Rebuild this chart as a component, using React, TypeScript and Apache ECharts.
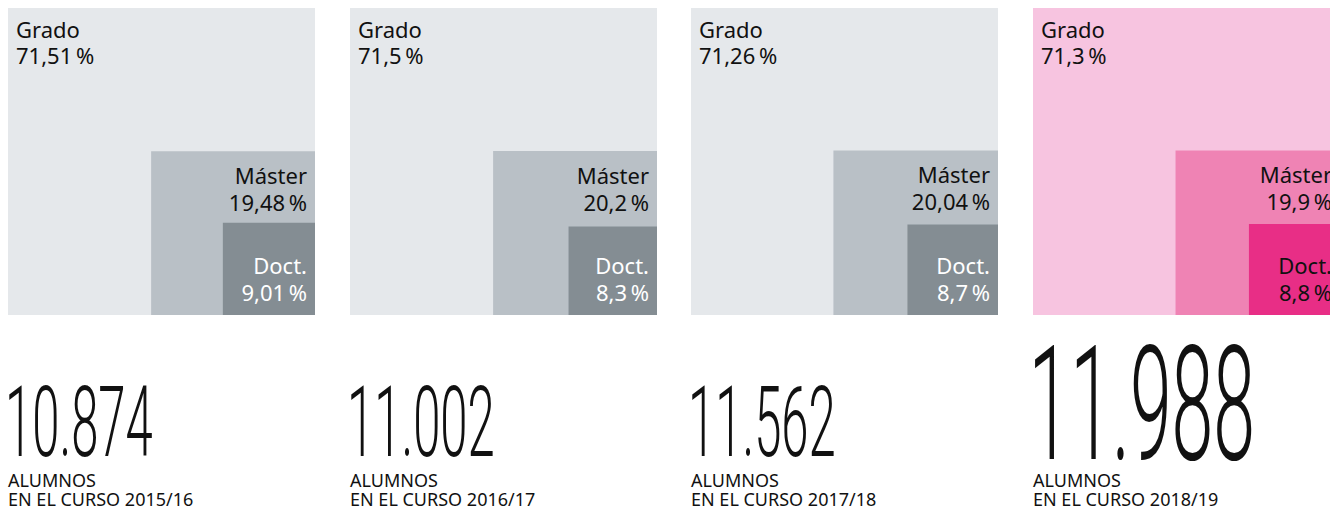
import React, { useEffect, useRef } from "react";
import * as echarts from "echarts";

// ---- data ----
const courses = ["2015/16", "2016/17", "2017/18", "2018/19"];
const students = [10874, 11002, 11562, 11988];
const levels = ["Grado", "Máster", "Doct."];
const grado = [71.51, 71.5, 71.26, 71.3];
const master = [19.48, 20.2, 20.04, 19.9];
const doct = [9.01, 8.3, 8.7, 8.8];

// ---- layout / style ----
const W = 1330;
const H = 509;
const PANEL_LEFT = [8, 350, 691, 1033];
const PANEL_TOP = 8;
const PANEL_SIZE = 307;
const HIGHLIGHT = 3;
const GREY = ["#e5e8eb", "#b9c0c6", "#848d93"];
const PINK = ["#f7c4e0", "#ef83b4", "#e82e86"];
const TEXT = "#111111";
const LABEL_FONT = "'Noto Sans', 'Open Sans', sans-serif";
const NUMBER_FONT = "Roboto, 'DejaVu Sans', sans-serif";

const fmtPct = (v: number) => String(v).replace(".", ",") + "\u2009%";
const fmtNum = (n: number) => String(n).replace(/\B(?=(\d{3})+(?!\d))/g, ".");

export default function App() {
  const ref = useRef<HTMLDivElement>(null);

  useEffect(() => {
    document.body.style.margin = "0";
    document.body.style.overflow = "hidden";
    if (!ref.current) return;
    const chart = echarts.init(ref.current, undefined, { renderer: "svg" });

    const grids = PANEL_LEFT.map((left) => ({
      left,
      top: PANEL_TOP,
      width: PANEL_SIZE,
      height: PANEL_SIZE,
      containLabel: false,
      outerBoundsMode: "none",
    }));
    const xAxis = PANEL_LEFT.map((_, i) => ({
      type: "value",
      gridIndex: i,
      min: 0,
      max: 1,
      show: false,
    }));
    const yAxis = PANEL_LEFT.map((_, i) => ({
      type: "value",
      gridIndex: i,
      min: 0,
      max: 1,
      show: false,
    }));

    const series = PANEL_LEFT.map((_, i) => {
      const total = grado[i] + master[i] + doct[i];
      const shares = [grado[i], master[i], doct[i]];
      const cums = [total, master[i] + doct[i], doct[i]];
      const palette = i === HIGHLIGHT ? PINK : GREY;
      return {
        type: "custom",
        xAxisIndex: i,
        yAxisIndex: i,
        clip: false,
        data: levels.map((_, k) => [(cums[k] / total) * 100, shares[k], k]),
        renderItem: (params: any, api: any) => {
          const cum = api.value(0);
          const share = api.value(1);
          const k = api.value(2);
          const side = Math.sqrt(cum / 100);
          const tl = api.coord([1 - side, side]);
          const br = api.coord([1, 0]);
          const rect = {
            type: "rect",
            shape: { x: tl[0], y: tl[1], width: br[0] - tl[0], height: br[1] - tl[1] },
            style: { fill: palette[k] },
          };
          const white = k === 2 && i !== HIGHLIGHT;
          let tx: number, ty: number, align: string, vAlign: string;
          if (k === 0) {
            tx = tl[0] + 8; ty = tl[1] + 8; align = "left"; vAlign = "top";
          } else if (k === 1) {
            tx = br[0] - 8; ty = tl[1] + 10; align = "right"; vAlign = "top";
          } else {
            tx = br[0] - 8; ty = br[1] - 10; align = "right"; vAlign = "bottom";
          }
          const text = {
            type: "text",
            style: {
              text: levels[k] + "\n" + fmtPct(share),
              x: tx,
              y: ty,
              align,
              verticalAlign: vAlign,
              fill: white ? "#ffffff" : TEXT,
              fontFamily: LABEL_FONT,
              fontSize: 22,
              lineHeight: k === 0 ? 26 : 27,
            },
          };
          return { type: "group", children: [rect, text] };
        },
      };
    });

    const graphic: any[] = [];
    PANEL_LEFT.forEach((left, i) => {
      const big = i === HIGHLIGHT;
      const fs = big ? 160 : 98;
      const sx = big ? 0.47 : 0.5;
      graphic.push({
        type: "text",
        x: left - 0.06 * fs * sx,
        y: 451 + 0.21 * fs,
        scaleX: sx,
        style: {
          text: fmtNum(students[i]),
          x: 0,
          y: 0,
          textAlign: "left",
          textVerticalAlign: "bottom",
          fill: TEXT,
          fontFamily: NUMBER_FONT,
          fontWeight: 300,
          fontSize: fs,
          lineHeight: fs,
        },
      });
      graphic.push({
        type: "text",
        x: left,
        y: 470,
        style: {
          text: "ALUMNOS\nEN EL CURSO " + courses[i],
          x: 0,
          y: 0,
          textAlign: "left",
          textVerticalAlign: "top",
          fill: TEXT,
          fontFamily: LABEL_FONT,
          fontSize: 18,
          lineHeight: 19,
        },
      });
    });

    chart.setOption({
      animation: false,
      grid: grids,
      xAxis,
      yAxis,
      series,
      graphic,
    });

    return () => chart.dispose();
  }, []);

  return <div ref={ref} style={{ width: W, height: H }} />;
}
